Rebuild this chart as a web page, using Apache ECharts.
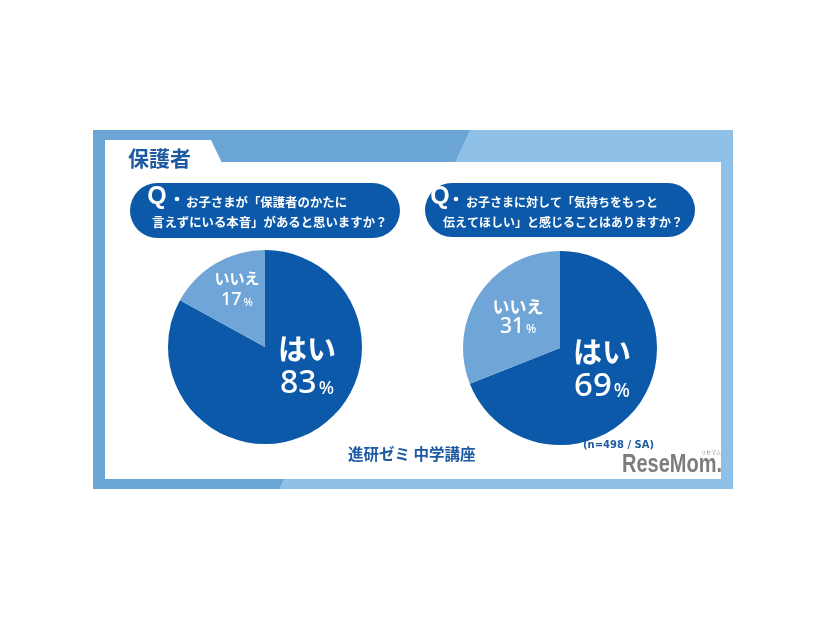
<!DOCTYPE html>
<html>
<head>
<meta charset="utf-8">
<script src="https://cdn.jsdelivr.net/npm/echarts@6/dist/echarts.min.js"></script>
<style>
html,body{margin:0;padding:0;background:#fff;}
#chart{width:826px;height:620px;}
</style>
</head>
<body>
<div id="chart"></div>
<script>
// ---- data ----
const categories = ['はい', 'いいえ'];
const q1Values = [83, 17];
const q2Values = [69, 31];
const headerText = '保護者';
const q1Lines = ['お子さまが「保護者のかたに', '言えずにいる本音」があると思いますか？'];
const q2Lines = ['お子さまに対して「気持ちをもっと', '伝えてほしい」と感じることはありますか？'];
const sourceText = '進研ゼミ 中学講座';
const noteText = '(n=498 / SA)';

// ---- styles ----
const DARK = '#0b59a8';
const LIGHT = '#6fa6d7';
const STRIP_DARK = '#6aa5d5';
const STRIP_LIGHT = '#8ec0e8';
const JP = '"Noto Sans CJK JP", sans-serif';
const NUM = '"Noto Sans", Lato, sans-serif';

function richSet(big, nameSize, valSize, pctSize) {
  const lh = big ? 35 : 21;
  return {
    n: {fontFamily: JP, fontWeight: 'bold', fontSize: nameSize, color: '#fff', lineHeight: lh, align: 'center'},
    v: {fontFamily: NUM, fontWeight: 500, fontSize: valSize, color: '#fff', lineHeight: lh},
    p: {fontFamily: NUM, fontWeight: 500, fontSize: pctSize, color: '#fff', lineHeight: lh, verticalAlign: 'bottom', padding: [0, 0, big ? 3 : 2, 2]}
  };
}

function buildData(values, sizes) {
  return categories.map((c, i) => ({
    name: c,
    value: values[i],
    itemStyle: {color: i === 0 ? DARK : LIGHT},
    label: {
      show: true,
      formatter: '{n|' + c + '}\n{v|' + values[i] + '}{p|%}',
      rich: richSet(i === 0, sizes[i][0], sizes[i][1], sizes[i][2])
    }
  }));
}

// label offsets from pie centre (px)
const labelOffsets = [
  [[42, 19], [-28, -58]],
  [[42, 21], [-42, -31]]
];
const centers = [[265, 347], [560, 348]];

function makePie(idx, values, sizes) {
  return {
    type: 'pie',
    center: centers[idx],
    radius: [0, 97],
    startAngle: 90,
    clockwise: true,
    silent: true,
    animation: false,
    avoidLabelOverlap: false,
    label: {position: 'inside'},
    labelLine: {show: false},
    emphasis: {disabled: true},
    itemStyle: {borderWidth: 0},
    data: buildData(values, sizes),
    labelLayout: function (p) {
      const off = labelOffsets[idx][p.dataIndex];
      return {x: centers[idx][0] + off[0], y: centers[idx][1] + off[1], align: 'center', verticalAlign: 'middle'};
    }
  };
}

const chart = echarts.init(document.getElementById('chart'), null, {renderer: 'canvas'});

const txt = (x, y, t, font, fill, align, extra) => Object.assign({
  type: 'text', x: x, y: y,
  style: {text: t, fill: fill, font: font, align: align || 'left', verticalAlign: 'middle'}
}, extra || {});

chart.setOption({
  backgroundColor: '#fff',
  graphic: [
    {type: 'rect', z: -10, shape: {x: 93, y: 130, width: 640, height: 359}, style: {fill: STRIP_LIGHT}},
    {type: 'polygon', z: -9, shape: {points: [[93, 130], [470, 130], [455, 162], [105, 162], [105, 479], [284, 479], [279, 489], [93, 489]]}, style: {fill: STRIP_DARK}},
    {type: 'rect', z: -8, shape: {x: 105, y: 162, width: 616, height: 317}, style: {fill: '#fff'}},
    {type: 'polygon', z: -8, shape: {points: [[105, 140], [211, 140], [222, 163], [105, 163]]}, style: {fill: '#fff'}},
    txt(128, 158, headerText, 'bold 21px ' + JP, '#1d5aa1'),
    // question pills
    {type: 'rect', shape: {x: 130, y: 183, width: 270, height: 55, r: 27.5}, style: {fill: DARK}},
    {type: 'rect', shape: {x: 425, y: 183, width: 270, height: 54, r: 27}, style: {fill: DARK}},
    txt(157, 197, 'Q', 'bold 25px "Liberation Sans", sans-serif', '#fff', 'center'),
    {type: 'circle', shape: {cx: 177, cy: 199, r: 2.3}, style: {fill: '#fff'}},
    txt(186, 202, q1Lines[0], 'bold 12.4px ' + JP, '#fff'),
    txt(152, 222, q1Lines[1], 'bold 12.4px ' + JP, '#fff'),
    txt(440, 197, 'Q', 'bold 25px "Liberation Sans", sans-serif', '#fff', 'center'),
    {type: 'circle', shape: {cx: 456, cy: 199, r: 2.3}, style: {fill: '#fff'}},
    txt(466, 202, q2Lines[0], 'bold 12px ' + JP, '#fff'),
    txt(443, 222, q2Lines[1], 'bold 12px ' + JP, '#fff'),
    // footer
    txt(348, 454, sourceText, 'bold 15.5px ' + JP, '#1d5aa1'),
    txt(583, 445, noteText, 'bold 10px "DejaVu Sans", sans-serif', '#1d5aa1'),
    txt(722, 465, 'ReseMom.', 'bold 25px "Liberation Sans", sans-serif', '#7d7d7d', 'right', {scaleX: 0.8}),
    txt(711, 452, 'リセマム', '5px ' + JP, '#8a8a8a', 'center')
  ],
  series: [
    makePie(0, q1Values, [[29, 32, 18], [15, 18, 11]]),
    makePie(1, q2Values, [[29, 33, 19], [17, 21, 12]])
  ]
});
</script>
</body>
</html>
